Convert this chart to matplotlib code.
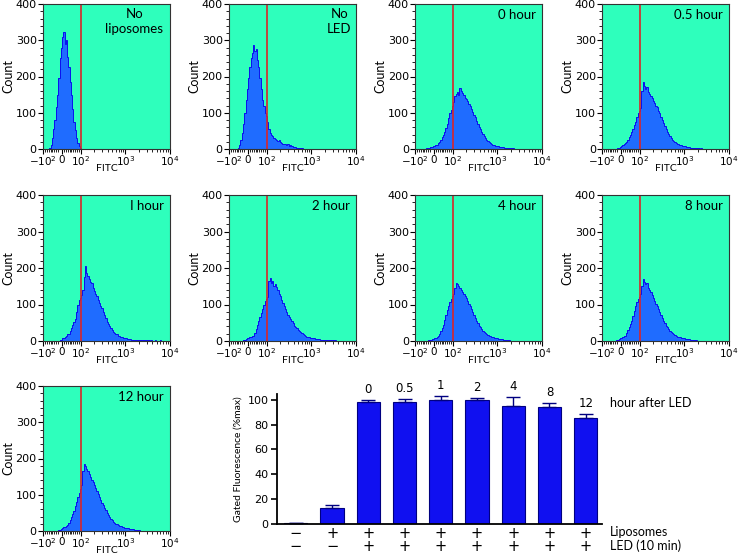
import numpy as np
import matplotlib
matplotlib.use("Agg")
import matplotlib.pyplot as plt
from matplotlib.scale import SymmetricalLogTransform
from matplotlib.ticker import FixedLocator, MultipleLocator

# ---------------------------------------------------------------------------
# data: flow histograms (counts per display bin, 100 bins from -10^2 to 10^4)
# ---------------------------------------------------------------------------
panel_titles = ["No\nliposomes", "No\nLED", "0 hour", "0.5 hour",
                "I hour", "2 hour", "4 hour", "8 hour", "12 hour"]

counts_no_lipo = [0, 0, 0, 0, 0, 3, 12, 30, 55, 80, 115, 150, 195, 250, 280, 310, 322, 290, 300, 255,
                  225, 185, 150, 110, 75, 52, 30, 16, 8, 3, 1, 0, 0, 0, 0, 0, 0, 0, 0, 0,
                  0, 0, 0, 0, 0, 0, 0, 0, 0, 0, 0, 0, 0, 0, 0, 0, 0, 0, 0, 0,
                  0, 0, 0, 0, 0, 0, 0, 0, 0, 0, 0, 0, 0, 0, 0, 0, 0, 0, 0, 0,
                  0, 0, 0, 0, 0, 0, 0, 0, 0, 0, 0, 0, 0, 0, 0, 0, 0, 0, 0, 0]
counts_no_led = [0, 0, 0, 0, 0, 0, 0, 3, 12, 25, 45, 70, 100, 135, 165, 195, 225, 250, 265, 288,
                 270, 275, 245, 225, 195, 165, 135, 118, 100, 92, 75, 55, 44, 40, 35, 30, 28, 26, 22, 24,
                 18, 16, 15, 13, 14, 12, 15, 9, 10, 7, 6, 5, 6, 4, 3, 3, 2, 2, 1, 1,
                 0, 0, 0, 0, 0, 0, 0, 0, 0, 0, 0, 0, 0, 0, 0, 0, 0, 0, 0, 0,
                 0, 0, 0, 0, 0, 0, 0, 0, 0, 0, 0, 0, 0, 0, 0, 0, 0, 0, 0, 0]
counts_0h = [0, 0, 0, 0, 0, 0, 0, 0, 1, 2, 3, 4, 5, 6, 8, 9, 11, 12, 16, 20,
             25, 32, 40, 48, 58, 70, 85, 98, 108, 118, 130, 145, 152, 158, 150, 167, 160, 155, 150, 142,
             138, 132, 125, 118, 110, 102, 95, 88, 78, 70, 62, 55, 48, 42, 36, 30, 26, 22, 19, 16,
             14, 12, 10, 9, 8, 7, 6, 6, 5, 5, 4, 4, 3, 4, 3, 3, 2, 2, 1, 1,
             0, 0, 0, 0, 0, 0, 0, 0, 0, 0, 0, 0, 0, 0, 0, 0, 0, 0, 0, 0]
counts_05h = [0, 0, 0, 0, 0, 0, 0, 0, 0, 0, 0, 0, 2, 4, 6, 8, 10, 13, 16, 20,
              26, 32, 40, 48, 56, 65, 75, 88, 98, 105, 112, 160, 185, 175, 165, 170, 158, 152, 145, 140,
              132, 128, 120, 115, 105, 98, 88, 80, 72, 64, 56, 48, 42, 36, 30, 26, 22, 19, 17, 15,
              13, 12, 10, 9, 8, 7, 6, 5, 5, 4, 4, 3, 3, 2, 2, 2, 2, 1, 2, 1,
              1, 1, 0, 0, 0, 0, 0, 0, 0, 0, 0, 0, 0, 0, 0, 0, 0, 0, 0, 0]
counts_1h = [0, 0, 0, 0, 0, 0, 0, 0, 0, 0, 0, 0, 0, 2, 4, 7, 9, 12, 15, 18,
             20, 28, 36, 44, 52, 60, 80, 100, 112, 118, 125, 140, 175, 205, 185, 178, 170, 162, 158, 145,
             138, 130, 122, 112, 105, 96, 90, 80, 72, 62, 52, 46, 40, 35, 30, 26, 22, 20, 18, 15,
             13, 12, 10, 9, 8, 7, 6, 5, 5, 4, 4, 3, 3, 3, 3, 2, 2, 2, 3, 2,
             2, 2, 2, 2, 1, 2, 1, 1, 2, 1, 1, 1, 2, 1, 1, 1, 1, 1, 0, 0]
counts_2h = [0, 0, 0, 0, 0, 0, 0, 0, 0, 0, 0, 2, 4, 6, 7, 8, 10, 12, 14, 15,
             22, 32, 45, 55, 66, 78, 88, 100, 110, 115, 120, 165, 172, 160, 165, 150, 155, 148, 140, 130,
             122, 112, 105, 96, 88, 80, 72, 66, 60, 54, 48, 42, 38, 35, 30, 27, 24, 21, 18, 16,
             14, 12, 11, 10, 9, 8, 7, 7, 6, 6, 5, 5, 4, 4, 4, 3, 3, 3, 2, 3,
             2, 2, 2, 2, 1, 1, 1, 0, 0, 0, 0, 0, 0, 0, 0, 0, 0, 0, 0, 0]
counts_4h = [0, 0, 0, 0, 0, 0, 0, 0, 0, 1, 2, 3, 4, 5, 6, 7, 9, 10, 14, 20,
             27, 35, 45, 58, 70, 85, 96, 108, 115, 122, 130, 145, 160, 155, 150, 145, 140, 135, 130, 124,
             118, 110, 102, 95, 88, 80, 72, 64, 56, 48, 42, 37, 32, 27, 24, 21, 18, 16, 14, 13,
             11, 10, 9, 8, 7, 6, 6, 5, 5, 4, 4, 3, 3, 2, 2, 1, 1, 0, 0, 0,
             0, 0, 0, 0, 0, 0, 0, 0, 0, 0, 0, 0, 0, 0, 0, 0, 0, 0, 0, 0]
counts_8h = [0, 0, 0, 0, 0, 0, 0, 0, 0, 0, 1, 2, 4, 5, 7, 9, 11, 13, 15, 22,
             30, 38, 46, 55, 68, 82, 95, 108, 115, 120, 130, 150, 170, 162, 155, 158, 145, 140, 135, 126,
             118, 110, 102, 95, 88, 80, 72, 64, 55, 48, 42, 37, 32, 27, 24, 21, 18, 16, 14, 12,
             11, 10, 9, 8, 7, 6, 6, 5, 5, 4, 4, 3, 3, 2, 2, 1, 1, 0, 0, 0,
             0, 0, 0, 0, 0, 0, 0, 0, 0, 0, 0, 0, 0, 0, 0, 0, 0, 0, 0, 0]
counts_12h = [0, 0, 0, 0, 0, 0, 0, 0, 0, 0, 0, 0, 2, 4, 6, 8, 10, 12, 14, 17,
              22, 30, 38, 46, 55, 68, 80, 95, 105, 115, 128, 165, 185, 178, 170, 165, 158, 150, 142, 135,
              128, 118, 110, 102, 94, 86, 78, 72, 64, 58, 50, 44, 38, 33, 29, 26, 23, 20, 18, 16,
              15, 13, 12, 10, 9, 8, 7, 7, 6, 6, 5, 5, 4, 4, 3, 3, 0, 0, 0, 0,
              0, 0, 0, 0, 0, 0, 0, 0, 0, 0, 0, 0, 0, 0, 0, 0, 0, 0, 0, 0]

hist_counts = [counts_no_lipo, counts_no_led, counts_0h, counts_05h,
               counts_1h, counts_2h, counts_4h, counts_8h, counts_12h]

# ---------------------------------------------------------------------------
# data: gated fluorescence bar chart
# ---------------------------------------------------------------------------
bar_values = [0.5, 13, 98, 98, 100, 100, 95, 94.5, 85]
bar_errors = [0.5, 2.5, 2, 2.5, 3, 1.5, 7, 2.5, 3.5]
hour_labels = ["", "", "0", "0.5", "1", "2", "4", "8", "12"]
liposomes = ["\u2212", "+", "+", "+", "+", "+", "+", "+", "+"]
led = ["\u2212", "\u2212", "+", "+", "+", "+", "+", "+", "+"]

# ---------------------------------------------------------------------------
BG = "#2effbc"
FILL = "#1f6cff"
EDGE = "#0a10ee"
GATE = "#d8262a"
NUM_FONT = "DejaVu Sans"
TXT_FONT = "Lato"
plt.rcParams["font.family"] = NUM_FONT

W, H = 740, 557
fig = plt.figure(figsize=(W / 100, H / 100), dpi=100)


def px_axes(x0, y0, x1, y1):
    return fig.add_axes([x0 / W, 1 - y1 / H, (x1 - x0) / W, (y1 - y0) / H])


LINTHRESH, LINSCALE = 100, 0.384
tr = SymmetricalLogTransform(10, LINTHRESH, LINSCALE)
t0, t1 = tr.transform(np.array([-100.0, 1e4]))
edges = tr.inverted().transform(np.linspace(t0, t1, 101))

col_x = [43, 229, 415, 602]
row_y = [(4, 149), (195, 341), (386, 531)]
minor_x = ([-s * 10 for s in range(2, 10)] + [s * 10 for s in range(1, 10)]
           + [s * 100 for s in range(2, 10)] + [s * 1000 for s in range(2, 10)])

for k, (counts, title) in enumerate(zip(hist_counts, panel_titles)):
    r, c = divmod(k, 4)
    ax = px_axes(col_x[c], row_y[r][0], col_x[c] + 127, row_y[r][1])
    ax.set_facecolor(BG)
    ax.set_xscale("symlog", linthresh=LINTHRESH, linscale=LINSCALE)
    ax.stairs(counts, edges, fill=True, color=FILL, lw=0)
    ax.stairs(counts, edges, color=EDGE, lw=0.7)
    ax.axvline(100, color=GATE, lw=1.2)
    ax.set_xlim(-100, 1e4)
    ax.set_ylim(0, 400)
    ax.xaxis.set_major_locator(FixedLocator([-100, 0, 100, 1000, 10000]))
    ax.xaxis.set_minor_locator(FixedLocator(minor_x))
    ax.set_xticklabels([r"$\mathregular{-10^2}$", "0", r"$\mathregular{10^2}$",
                        r"$\mathregular{10^3}$", r"$\mathregular{10^4}$"])
    ax.yaxis.set_major_locator(MultipleLocator(100))
    ax.yaxis.set_minor_locator(MultipleLocator(20))
    ax.tick_params(which="major", length=3.5, width=0.8, labelsize=8, pad=1)
    ax.tick_params(axis="x", which="major", labelsize=7.5, pad=0.5)
    ax.tick_params(which="minor", length=2, width=0.6)
    for sp in ax.spines.values():
        sp.set_color("#333333")
        sp.set_linewidth(0.8)
    ax.set_xlabel("FITC", fontsize=7.5, family=TXT_FONT)
    ax.xaxis.set_label_coords(0.5, -0.105)
    ax.set_ylabel("Count", fontsize=9, family=TXT_FONT, labelpad=1)
    if k == 0:
        ax.text(0.72, 0.97, title, transform=ax.transAxes, ha="center", va="top",
                fontsize=9.5, family=TXT_FONT, linespacing=1.3)
    elif k == 1:
        ax.text(0.87, 0.97, title, transform=ax.transAxes, ha="center", va="top",
                fontsize=9.5, family=TXT_FONT, linespacing=1.3)
    else:
        ax.text(0.95, 0.965, title, transform=ax.transAxes, ha="right", va="top",
                fontsize=9.5, family=TXT_FONT)

# --- bar chart ---
bx = px_axes(277, 393.5, 602, 524)
pos = np.arange(len(bar_values))
bx.bar(pos, bar_values, width=0.64, color="#1010f0", edgecolor="#000080", lw=0.8,
       yerr=[np.zeros(len(bar_errors)), bar_errors], capsize=5,
       error_kw=dict(ecolor="#000080", elinewidth=1.0, capthick=1.0))
bx.set_xlim(-0.52, 8.45)
bx.set_ylim(0, 105)
bx.yaxis.set_major_locator(MultipleLocator(20))
bx.set_xticks([])
for s in ("top", "right"):
    bx.spines[s].set_visible(False)
bx.spines["left"].set_linewidth(1.3)
bx.spines["bottom"].set_linewidth(1.3)
bx.tick_params(axis="y", length=4, width=1.2, labelsize=8, pad=2)
bx.set_ylabel("Gated Fluorescence (%max)", fontsize=7.5, family=TXT_FONT, labelpad=4)

for p, v, e, h in zip(pos, bar_values, bar_errors, hour_labels):
    if h:
        bx.annotate(h, xy=(p, v + e), xytext=(0, 3), textcoords="offset points",
                    ha="center", va="bottom", fontsize=8.5, annotation_clip=False)
for p, a, b in zip(pos, liposomes, led):
    bx.annotate(a, xy=(p, 0), xycoords=("data", "axes fraction"), xytext=(0, -6.5),
                textcoords="offset points", ha="center", va="center", fontsize=10.5,
                annotation_clip=False)
    bx.annotate(b, xy=(p, 0), xycoords=("data", "axes fraction"), xytext=(0, -16.5),
                textcoords="offset points", ha="center", va="center", fontsize=10.5,
                annotation_clip=False)

fig.text(610 / W, 1 - 403 / H, "hour after LED", ha="left", va="center",
         fontsize=9, family=TXT_FONT)
fig.text(610 / W, 1 - 532 / H, "Liposomes", ha="left", va="center",
         fontsize=9, family=TXT_FONT)
fig.text(610 / W, 1 - 546 / H, "LED (10 min)", ha="left", va="center",
         fontsize=9, family=TXT_FONT)

fig.savefig("out.png", dpi=100)
